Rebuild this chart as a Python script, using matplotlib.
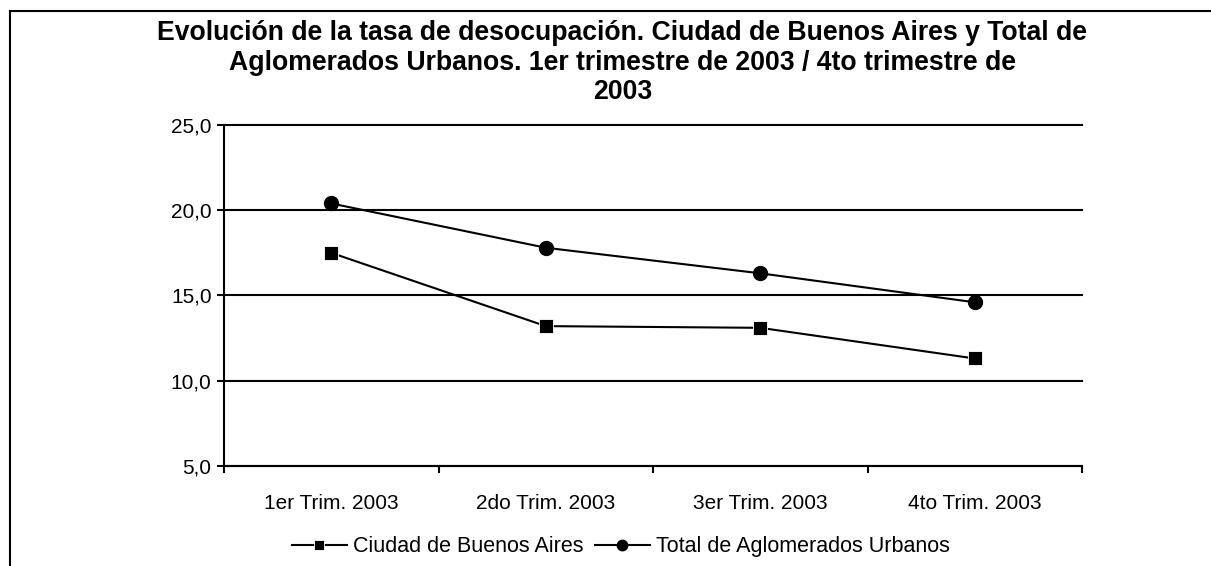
import matplotlib.pyplot as plt
from matplotlib.lines import Line2D
from matplotlib.ticker import FuncFormatter

plt.rcParams['font.family'] = ['Liberation Sans', 'DejaVu Sans']

# datos
trimestres = ['1er Trim. 2003', '2do Trim. 2003', '3er Trim. 2003', '4to Trim. 2003']
caba = [17.5, 13.2, 13.1, 11.3]
total_aglomerados = [20.4, 17.8, 16.3, 14.6]
titulo = ("Evolución de la tasa de desocupación. Ciudad de Buenos Aires y Total de\n"
          "Aglomerados Urbanos. 1er trimestre de 2003 / 4to trimestre de\n"
          "2003")

fig = plt.figure(figsize=(12.11, 5.66), dpi=100)
ax = fig.add_axes([0.185, 0.177, 0.7085, 0.602])

x = list(range(len(trimestres)))
ax.plot(x, caba, color='black', lw=1.5, marker='s', ms=10, mfc='black',
        mec='white', mew=0.6, label='Ciudad de Buenos Aires', zorder=3)
ax.plot(x, total_aglomerados, color='black', lw=1.5, marker='o', ms=10,
        mfc='black', mec='black', label='Total de Aglomerados Urbanos', zorder=3)

ax.set_xlim(-0.5, len(trimestres) - 0.5)
ax.set_ylim(5, 25)
ax.set_yticks([5, 10, 15, 20, 25])
ax.yaxis.set_major_formatter(FuncFormatter(lambda v, p: f'{v:.1f}'.replace('.', ',')))
ax.yaxis.grid(True, color='black', lw=1.5)
for gl in ax.get_ygridlines():
    gl.set_clip_on(False)
ax.set_axisbelow(True)

# ticks en los bordes de categoría, etiquetas en el centro
ax.set_xticks([i - 0.5 for i in range(len(trimestres) + 1)])
ax.set_xticklabels([])
ax.set_xticks(x, minor=True)
ax.set_xticklabels(trimestres, minor=True)
ax.tick_params(axis='x', which='minor', length=0, pad=20, labelsize=15)
ax.tick_params(axis='x', which='major', length=5, width=1.5, direction='out')
ax.tick_params(axis='y', length=5, width=1.5, direction='out', pad=4, labelsize=15)

for s in ['top', 'right']:
    ax.spines[s].set_visible(False)
for s in ['left', 'bottom']:
    ax.spines[s].set_linewidth(1.5)

fig.text(0.514, 0.889, titulo, ha='center', va='center', fontsize=19.2,
         fontweight='bold', linespacing=1.17)

fig.legend(loc='center', bbox_to_anchor=(0.5125, 0.034), ncol=2, frameon=False,
           fontsize=15.5, handlelength=2.55, columnspacing=0.55, handletextpad=0.28,
           markerscale=0.75)

# marco de la figura (solo arriba e izquierda visibles)
fig.add_artist(Line2D([0.0083, 1.0], [0.981, 0.981], transform=fig.transFigure,
                      color='black', lw=1.5))
fig.add_artist(Line2D([0.0083, 0.0083], [0.0, 0.981], transform=fig.transFigure,
                      color='black', lw=1.5))

fig.savefig('out.png', dpi=100)
